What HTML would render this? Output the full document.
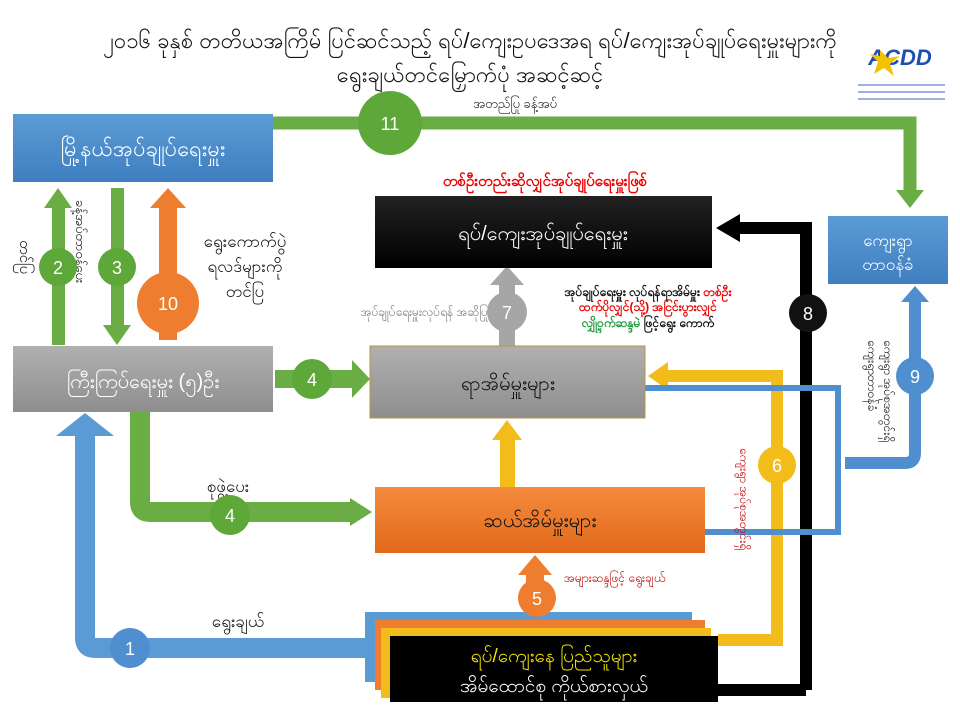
<!DOCTYPE html>
<html><head><meta charset="utf-8">
<style>
html,body{margin:0;padding:0;background:#fff;}
svg{display:block;font-family:"Liberation Sans","Noto Sans CJK SC",sans-serif;}
</style></head><body>
<svg width="960" height="720" viewBox="0 0 960 720" xmlns="http://www.w3.org/2000/svg">
<defs>
<linearGradient id="gb" x1="0" y1="0" x2="0" y2="1"><stop offset="0" stop-color="#5b9bd5"/><stop offset="1" stop-color="#3f7fc0"/></linearGradient>
<linearGradient id="gg" x1="0" y1="0" x2="0" y2="1"><stop offset="0" stop-color="#b0b0b0"/><stop offset="1" stop-color="#8e8e8e"/></linearGradient>
<linearGradient id="go" x1="0" y1="0" x2="0" y2="1"><stop offset="0" stop-color="#f48a3c"/><stop offset="1" stop-color="#e26a1c"/></linearGradient>
<linearGradient id="gk" x1="0" y1="0" x2="0" y2="1"><stop offset="0" stop-color="#222"/><stop offset="1" stop-color="#000"/></linearGradient>
</defs>

<!-- title -->
<text x="470" y="48" font-size="22" text-anchor="middle" fill="#111">၂၀၁၆ ခုနှစ် တတိယအကြိမ် ပြင်ဆင်သည့် ရပ်/ကျေးဥပဒေအရ ရပ်/ကျေးအုပ်ချုပ်ရေးမှူးများကို</text>
<text x="470" y="82" font-size="22" text-anchor="middle" fill="#111">ရွေးချယ်တင်မြှောက်ပုံ အဆင့်ဆင့်</text>
<!-- logo -->
<text x="900" y="65" font-size="22" font-weight="bold" font-style="italic" fill="#1f4fb0" text-anchor="middle">ACDD</text>
<polygon points="880,50 888,58 900,56 890,64 894,76 884,68 874,74 878,62 870,54 880,56" fill="#f2c200"/>
<line x1="858" y1="85" x2="945" y2="85" stroke="#3366cc" stroke-width="1"/>
<line x1="858" y1="92" x2="945" y2="92" stroke="#3366cc" stroke-width="1"/>
<line x1="858" y1="99" x2="945" y2="99" stroke="#3366cc" stroke-width="1"/>

<!-- green line 11 -->
<path d="M270,123 H910 V195" fill="none" stroke="#6aad45" stroke-width="13"/>
<polygon points="896,190 924,190 910,208" fill="#6aad45"/>
<text x="515" y="108" font-size="13" text-anchor="middle" fill="#222">အတည်ပြု ခန့်အပ်</text>

<!-- yellow 6 -->
<path d="M718,640 H777 V376 H665" fill="none" stroke="#f2bd1a" stroke-width="12"/>
<polygon points="668,362 668,390 648,376" fill="#f2bd1a"/>

<!-- black line 8 -->
<path d="M806,690 V228 H735" fill="none" stroke="#000" stroke-width="12"/>
<polygon points="740,214 740,242 716,228" fill="#000"/>
<path d="M718,690 H806" stroke="#000" stroke-width="12"/>

<!-- blue bracket -->
<path d="M645,388 H838 V532 H705" fill="none" stroke="#4f8fd0" stroke-width="6"/>
<!-- blue 9 -->
<path d="M845,463 H905 Q915,463 915,453 V300" fill="none" stroke="#4f8fd0" stroke-width="12"/>
<polygon points="901,302 929,302 915,286" fill="#4f8fd0"/>

<!-- blue 1 -->
<path d="M380,648 H95 Q85,648 85,638 V430" fill="none" stroke="#5b9bd5" stroke-width="20"/>
<polygon points="56,436 114,436 85,413" fill="#5b9bd5"/>
<text x="238" y="627" font-size="17" text-anchor="middle" fill="#111">ရွေးချယ်</text>

<!-- green down 4 -->
<path d="M140,412 V502 Q140,512 150,512 H352" fill="none" stroke="#6aad45" stroke-width="20"/>
<polygon points="350,498 350,526 372,512" fill="#6aad45"/>
<text x="228" y="492" font-size="17" text-anchor="middle" fill="#111">စုဖွဲ့ပေး</text>

<!-- arrows 2,3,10 -->
<rect x="52" y="205" width="13" height="140" fill="#6aad45"/>
<polygon points="44,208 72,208 58,188" fill="#6aad45"/>
<rect x="111" y="188" width="13" height="140" fill="#6aad45"/>
<polygon points="103,325 131,325 117,345" fill="#6aad45"/>
<rect x="159" y="205" width="18" height="135" fill="#ef7d30"/>
<polygon points="150,208 186,208 168,188" fill="#ef7d30"/>
<text x="0" y="0" font-size="15" fill="#111" transform="translate(20,240) rotate(90)">တင်ပြ</text>
<text x="0" y="0" font-size="13" fill="#111" transform="translate(76,200) rotate(90)">ခန့်အပ်တာဝန်ပေး</text>
<text x="245" y="247" font-size="17" text-anchor="middle" fill="#111">ရွေးကောက်ပွဲ</text>
<text x="245" y="272" font-size="17" text-anchor="middle" fill="#111">ရလဒ်များကို</text>
<text x="245" y="297" font-size="17" text-anchor="middle" fill="#111">တင်ပြ</text>

<!-- green 4 right -->
<rect x="275" y="370" width="80" height="18" fill="#6aad45"/>
<polygon points="352,360 352,398 370,379" fill="#6aad45"/>

<!-- grey 7 -->
<rect x="499" y="282" width="16" height="64" fill="#a6a6a6"/>
<polygon points="490,285 524,285 507,266" fill="#a6a6a6"/>
<text x="488" y="316" font-size="12" text-anchor="end" fill="#777">အုပ်ချုပ်ရေးမှူးလုပ်ရန် အဆိုပြု</text>
<text x="648" y="296" font-size="12" font-weight="bold" text-anchor="middle" fill="#111">အုပ်ချုပ်ရေးမှူး လုပ်ရန်ရာအိမ်မှူး <tspan fill="#e00">တစ်ဦး</tspan></text>
<text x="648" y="311" font-size="12" font-weight="bold" text-anchor="middle" fill="#e00">ထက်ပိုလျှင်(သို့) အငြင်းပွားလျှင်</text>
<text x="648" y="327" font-size="12" font-weight="bold" text-anchor="middle" fill="#111"><tspan fill="#1a9a3a">လျှို့ဝှက်ဆန္ဒမဲ</tspan> ဖြင့်ရွေး ကောက်</text>

<!-- yellow arrow orange->ward -->
<rect x="500" y="438" width="15" height="50" fill="#f2bd1a"/>
<polygon points="492,440 522,440 507,420" fill="#f2bd1a"/>
<!-- orange 5 -->
<rect x="526" y="572" width="18" height="45" fill="#ef7d30"/>
<polygon points="518,575 552,575 535,555" fill="#ef7d30"/>
<text x="564" y="582" font-size="12" fill="#c00000">အများဆန္ဒဖြင့် ရွေးချယ်</text>

<!-- boxes -->
<rect x="13" y="114" width="260" height="68" fill="url(#gb)"/>
<text x="143" y="156" font-size="22" text-anchor="middle" fill="#fff">မြို့နယ်အုပ်ချုပ်ရေးမှူး</text>
<rect x="13" y="346" width="260" height="66" fill="url(#gg)"/>
<text x="143" y="388" font-size="20" text-anchor="middle" fill="#fff">ကြီးကြပ်ရေးမှူး (၅)ဦး</text>

<rect x="370" y="189" width="348" height="16" fill="#fff"/>
<text x="545" y="186" font-size="15" font-weight="bold" text-anchor="middle" fill="#e00">တစ်ဦးတည်းဆိုလျှင်အုပ်ချုပ်ရေးမှူးဖြစ်</text>
<rect x="375" y="196" width="337" height="72" fill="url(#gk)"/>
<text x="543" y="240" font-size="20" text-anchor="middle" fill="#fff">ရပ်/ကျေးအုပ်ချုပ်ရေးမှူး</text>

<rect x="828" y="216" width="120" height="68" fill="url(#gb)"/>
<text x="888" y="246" font-size="17" text-anchor="middle" fill="#fff">ကျေးရွာ</text>
<text x="888" y="270" font-size="17" text-anchor="middle" fill="#fff">တာဝန်ခံ</text>

<rect x="370" y="346" width="275" height="72" fill="url(#gg)" stroke="#b8953a" stroke-width="1"/>
<text x="508" y="390" font-size="20" text-anchor="middle" fill="#111">ရာအိမ်မှူးများ</text>

<rect x="375" y="487" width="330" height="66" fill="url(#go)"/>
<text x="540" y="527" font-size="20" text-anchor="middle" fill="#111">ဆယ်အိမ်မှူးများ</text>

<!-- stack -->
<rect x="365" y="612" width="327" height="70" fill="#5b9bd5"/>
<rect x="375" y="620" width="330" height="70" fill="#ef7d30"/>
<rect x="381" y="628" width="330" height="70" fill="#f2bd1a"/>
<rect x="390" y="636" width="328" height="66" fill="#000"/>
<text x="554" y="662" font-size="19" text-anchor="middle" fill="#f2e500">ရပ်/ကျေးနေ ပြည်သူများ</text>
<text x="554" y="692" font-size="19" text-anchor="middle" fill="#fff">အိမ်ထောင်စု ကိုယ်စားလှယ်</text>

<!-- vertical texts 6,9 -->
<text x="0" y="0" font-size="12" fill="#c00000" transform="translate(740,448) rotate(90)">ကျေးရွာ အုပ်စုအတွင်းရှိ</text>
<text x="0" y="0" font-size="12" fill="#111" transform="translate(884,340) rotate(90)">ကျေးရွာ အုပ်စုအတွင်းရှိ</text>
<text x="0" y="0" font-size="12" fill="#111" transform="translate(868,340) rotate(90)">ကျေးရွာတာဝန်ခံ</text>

<!-- circles -->
<g font-size="18" text-anchor="middle" fill="#fff">
<circle cx="390" cy="123" r="32" fill="#5ea83a"/><text x="390" y="130">11</text>
<circle cx="58" cy="267" r="19" fill="#5ea83a"/><text x="58" y="274">2</text>
<circle cx="117" cy="267" r="19" fill="#5ea83a"/><text x="117" y="274">3</text>
<circle cx="168" cy="303" r="31" fill="#ef7d30"/><text x="168" y="310">10</text>
<circle cx="312" cy="379" r="20" fill="#5ea83a"/><text x="312" y="386">4</text>
<circle cx="230" cy="515" r="20" fill="#5ea83a"/><text x="230" y="522">4</text>
<circle cx="130" cy="648" r="20" fill="#4f8fd0"/><text x="130" y="655">1</text>
<circle cx="537" cy="598" r="19" fill="#ef7d30"/><text x="537" y="605">5</text>
<circle cx="507" cy="312" r="20" fill="#a6a6a6"/><text x="507" y="319">7</text>
<circle cx="808" cy="313" r="19" fill="#111"/><text x="808" y="320">8</text>
<circle cx="777" cy="465" r="19" fill="#f2bd1a"/><text x="777" y="472">6</text>
<circle cx="915" cy="376" r="19" fill="#4f8fd0"/><text x="915" y="383">9</text>
</g>
</svg>
</body></html>
